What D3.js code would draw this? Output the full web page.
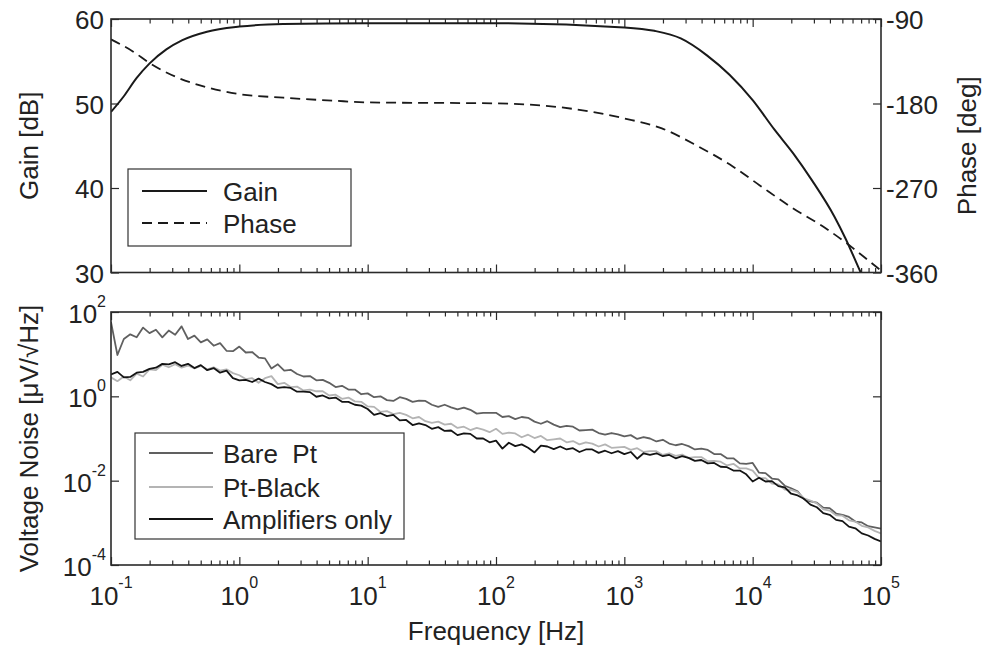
<!DOCTYPE html>
<html>
<head>
<meta charset="utf-8">
<script src="https://cdn.jsdelivr.net/npm/d3@7"></script>
<style>
	body { margin: 0; background: #fff; }
	text { font-family: "Liberation Sans", Arial, sans-serif; fill: #222; }
</style>
</head>
<body>
<div id="chart"></div>
<script>
// ---------------- data ----------------
// top panel: gain (dB) and phase (deg) versus frequency (Hz)
const gainFreq = [0.1, 0.125, 0.158, 0.2, 0.27, 0.36, 0.56, 1, 2.2, 10, 100, 1000, 1714, 2754, 4400, 6600, 10000, 14800, 20700, 29000, 43400, 53000, 69500, 80000];
const gainDb = [49.0, 50.8, 53.0, 54.75, 56.4, 57.5, 58.5, 59.1, 59.4, 59.5, 59.5, 59.0, 58.6, 57.7, 55.7, 53.4, 50.4, 46.9, 44.1, 40.9, 36.6, 34.0, 30.0, 28.0];

const phaseFreq = [0.1, 0.149, 0.2, 0.325, 0.56, 1, 2.2, 5.4, 10, 100, 316, 1000, 1960, 3800, 7000, 11300, 20700, 35600, 56600, 79500, 100000];
const phaseDeg = [-111.7, -124.8, -137, -152, -162.8, -170, -173.8, -177, -178.8, -179.9, -184, -195.9, -206.5, -226, -247, -267, -291.8, -311.3, -331, -347, -358];

// bottom panel: noise spectra, frequency as log10(Hz), values as log10(uV/sqrt(Hz))
const noiseFreqExp = [
	-1.00, -0.95, -0.90, -0.85, -0.80, -0.75, -0.70, -0.65, -0.60, -0.55, -0.50, -0.45, -0.40, -0.35, -0.30, -0.25, -0.20, -0.15, -0.10, -0.05,
	0.00, 0.05, 0.10, 0.15, 0.20, 0.25, 0.30, 0.35, 0.40, 0.45, 0.50, 0.55, 0.60, 0.65, 0.70, 0.75, 0.80, 0.85, 0.90, 0.95,
	1.00, 1.05, 1.10, 1.15, 1.20, 1.25, 1.30, 1.35, 1.40, 1.45, 1.50, 1.55, 1.60, 1.65, 1.70, 1.75, 1.80, 1.85, 1.90, 1.95,
	2.00, 2.05, 2.10, 2.15, 2.20, 2.25, 2.30, 2.35, 2.40, 2.45, 2.50, 2.55, 2.60, 2.65, 2.70, 2.75, 2.80, 2.85, 2.90, 2.95,
	3.00, 3.05, 3.10, 3.15, 3.20, 3.25, 3.30, 3.35, 3.40, 3.45, 3.50, 3.55, 3.60, 3.65, 3.70, 3.75, 3.80, 3.85, 3.90, 3.95,
	4.00, 4.05, 4.10, 4.15, 4.20, 4.25, 4.30, 4.35, 4.40, 4.45, 4.50, 4.55, 4.60, 4.65, 4.70, 4.75, 4.80, 4.85, 4.90, 4.95,
	5.00
];
const barePtExp = [
	1.76, 0.98, 1.36, 1.47, 1.40, 1.63, 1.50, 1.58, 1.40, 1.56, 1.46, 1.66, 1.36, 1.44, 1.28, 1.35, 1.20, 1.26, 1.08, 1.07,
	1.18, 1.04, 1.05, 0.92, 0.90, 0.66, 0.76, 0.61, 0.63, 0.53, 0.47, 0.48, 0.38, 0.39, 0.32, 0.22, 0.25, 0.16, 0.16, 0.05,
	0.07, -0.02, 0.00, -0.09, -0.11, -0.02, -0.06, -0.13, -0.10, -0.11, -0.20, -0.25, -0.20, -0.26, -0.31, -0.27, -0.32, -0.41, -0.39, -0.39,
	-0.39, -0.49, -0.47, -0.54, -0.49, -0.51, -0.60, -0.65, -0.59, -0.67, -0.73, -0.70, -0.72, -0.81, -0.80, -0.79, -0.87, -0.91, -0.87, -0.90,
	-0.95, -0.92, -1.01, -0.97, -1.00, -1.07, -1.03, -1.12, -1.16, -1.13, -1.18, -1.26, -1.24, -1.27, -1.37, -1.37, -1.47, -1.47, -1.59, -1.60,
	-1.58, -1.81, -1.82, -1.95, -1.97, -2.12, -2.18, -2.25, -2.44, -2.49, -2.52, -2.64, -2.65, -2.78, -2.81, -2.86, -2.97, -2.99, -3.08, -3.11,
	-3.14
];
const ptBlackExp = [
	0.45, 0.36, 0.47, 0.38, 0.54, 0.47, 0.64, 0.62, 0.75, 0.69, 0.76, 0.68, 0.73, 0.66, 0.72, 0.64, 0.69, 0.61, 0.64, 0.55,
	0.50, 0.41, 0.43, 0.32, 0.43, 0.48, 0.29, 0.32, 0.22, 0.23, 0.14, 0.16, 0.12, 0.12, 0.02, 0.04, -0.06, -0.03, -0.12, -0.13,
	-0.24, -0.25, -0.37, -0.35, -0.42, -0.39, -0.44, -0.52, -0.49, -0.59, -0.63, -0.60, -0.67, -0.65, -0.75, -0.72, -0.80, -0.75, -0.79, -0.85,
	-0.77, -0.89, -0.86, -0.88, -0.97, -0.91, -0.99, -0.94, -1.04, -1.02, -1.00, -1.09, -1.06, -1.14, -1.09, -1.12, -1.19, -1.14, -1.22, -1.21,
	-1.20, -1.27, -1.23, -1.32, -1.30, -1.30, -1.39, -1.35, -1.41, -1.38, -1.46, -1.44, -1.44, -1.54, -1.53, -1.55, -1.64, -1.60, -1.71, -1.71,
	-1.76, -1.94, -1.94, -2.07, -2.09, -2.21, -2.22, -2.27, -2.42, -2.47, -2.54, -2.68, -2.71, -2.82, -2.83, -2.94, -2.97, -3.07, -3.11, -3.19,
	-3.25
];
const ampOnlyExp = [
	0.52, 0.58, 0.45, 0.46, 0.56, 0.58, 0.65, 0.68, 0.77, 0.76, 0.81, 0.72, 0.77, 0.67, 0.74, 0.62, 0.67, 0.56, 0.61, 0.43,
	0.38, 0.39, 0.34, 0.42, 0.34, 0.29, 0.20, 0.22, 0.20, 0.11, 0.11, 0.10, -0.01, 0.02, -0.05, -0.03, -0.13, -0.13, -0.20, -0.22,
	-0.30, -0.44, -0.40, -0.47, -0.44, -0.57, -0.56, -0.68, -0.64, -0.68, -0.77, -0.73, -0.82, -0.81, -0.92, -0.88, -0.89, -1.00, -1.00, -1.09,
	-1.05, -1.24, -1.10, -1.18, -1.14, -1.22, -1.33, -1.17, -1.19, -1.25, -1.19, -1.26, -1.23, -1.32, -1.26, -1.26, -1.34, -1.29, -1.35, -1.30,
	-1.37, -1.32, -1.48, -1.35, -1.39, -1.35, -1.42, -1.39, -1.47, -1.42, -1.46, -1.53, -1.51, -1.59, -1.58, -1.67, -1.68, -1.76, -1.76, -1.85,
	-2.02, -1.93, -2.02, -2.01, -2.13, -2.16, -2.31, -2.35, -2.43, -2.57, -2.63, -2.77, -2.81, -2.93, -2.96, -3.09, -3.13, -3.25, -3.30, -3.38,
	-3.44
];

const freqTickExp = [-1, 0, 1, 2, 3, 4, 5];
const gainTicks = [30, 40, 50, 60];
const phaseTicks = [-360, -270, -180, -90];
const noiseTickExp = [-4, -2, 0, 2];

const noiseSeries = [
	{ name: "Bare  Pt", values: barePtExp, color: "#606060" },
	{ name: "Pt-Black", values: ptBlackExp, color: "#b4b4b4" },
	{ name: "Amplifiers only", values: ampOnlyExp, color: "#141414" },
];

// ---------------- layout ----------------
const W = 988, H = 650;
const xL = 111, xR = 881;
const top1 = 19, bot1 = 272.5, top2 = 312, bot2 = 565;
const frameColor = "#2a2a2a";
const fs = "26px", fsExp = "16px";

const svg = d3.select("#chart").append("svg").attr("width", W).attr("height", H);

const x = d3.scaleLog().domain([0.1, 1e5]).range([xL, xR]);
const yGain = d3.scaleLinear().domain([30, 60]).range([bot1, top1]);
const yPhase = d3.scaleLinear().domain([-360, -90]).range([bot1, top1]);
const yNoise = d3.scaleLog().domain([1e-4, 1e2]).range([bot2, top2]);

// decade and minor tick values on the frequency axis
const majorF = freqTickExp.map((e) => Math.pow(10, e));
const minorF = [];
freqTickExp.slice(0, -1).forEach((e) => {
	for (let k = 2; k <= 9; k++) minorF.push(k * Math.pow(10, e));
});

function freqTicks(yTop, yBot) {
	// bottom edge, ticks pointing in
	svg.append("g").attr("transform", `translate(0,${yBot})`)
		.call(d3.axisBottom(x).tickValues(majorF).tickSize(-8).tickFormat(""));
	svg.append("g").attr("transform", `translate(0,${yBot})`)
		.call(d3.axisBottom(x).tickValues(minorF).tickSize(-4.5).tickFormat(""));
	// top edge
	svg.append("g").attr("transform", `translate(0,${yTop})`)
		.call(d3.axisTop(x).tickValues(majorF).tickSize(-8).tickFormat(""));
	svg.append("g").attr("transform", `translate(0,${yTop})`)
		.call(d3.axisTop(x).tickValues(minorF).tickSize(-4.5).tickFormat(""));
}

function frame(yTop, yBot) {
	svg.append("rect")
		.attr("x", xL).attr("y", yTop)
		.attr("width", xR - xL).attr("height", yBot - yTop)
		.attr("fill", "none").attr("stroke", frameColor).attr("stroke-width", 1.6);
}

// clip paths
const defs = svg.append("defs");
defs.append("clipPath").attr("id", "clipTop").append("rect")
	.attr("x", xL).attr("y", top1).attr("width", xR - xL).attr("height", bot1 - top1);
defs.append("clipPath").attr("id", "clipBot").append("rect")
	.attr("x", xL).attr("y", top2).attr("width", xR - xL).attr("height", bot2 - top2);

// ================= TOP PANEL =================
freqTicks(top1, bot1);
svg.append("g").attr("transform", `translate(${xL},0)`)
	.call(d3.axisLeft(yGain).tickValues(gainTicks).tickSize(-8).tickFormat(""));
svg.append("g").attr("transform", `translate(${xR},0)`)
	.call(d3.axisRight(yPhase).tickValues(phaseTicks).tickSize(-8).tickFormat(""));

svg.selectAll(".gainLabel").data(gainTicks).join("text")
	.attr("class", "gainLabel")
	.attr("x", 104).attr("y", (d) => yGain(d) + 10)
	.attr("text-anchor", "end").style("font-size", fs)
	.text((d) => d);
svg.selectAll(".phaseLabel").data(phaseTicks).join("text")
	.attr("class", "phaseLabel")
	.attr("x", 886).attr("y", (d) => yPhase(d) + 10)
	.style("font-size", fs)
	.text((d) => d);

const topLines = svg.append("g").attr("clip-path", "url(#clipTop)");
const gainLine = d3.line().x((d) => x(d[0])).y((d) => yGain(d[1])).curve(d3.curveMonotoneX);
const phaseLine = d3.line().x((d) => x(d[0])).y((d) => yPhase(d[1])).curve(d3.curveMonotoneX);
topLines.append("path")
	.attr("d", phaseLine(phaseFreq.map((f, i) => [f, phaseDeg[i]])))
	.attr("fill", "none").attr("stroke", "#1a1a1a").attr("stroke-width", 1.8)
	.attr("stroke-dasharray", "10,6");
topLines.append("path")
	.attr("d", gainLine(gainFreq.map((f, i) => [f, gainDb[i]])))
	.attr("fill", "none").attr("stroke", "#1a1a1a").attr("stroke-width", 2);

frame(top1, bot1);

// top legend
svg.append("rect").attr("x", 128).attr("y", 169).attr("width", 223).attr("height", 77)
	.attr("fill", "#fff").attr("stroke", "#333").attr("stroke-width", 1.2);
[["Gain", null, 191], ["Phase", "10,6", 223]].forEach(([name, dash, ly]) => {
	svg.append("line").attr("x1", 142).attr("x2", 207).attr("y1", ly).attr("y2", ly)
		.attr("stroke", "#1a1a1a").attr("stroke-width", dash ? 1.8 : 2)
		.attr("stroke-dasharray", dash);
	svg.append("text").attr("x", 223).attr("y", ly + 10)
		.style("font-size", fs).text(name);
});

svg.append("text")
	.attr("transform", `translate(38,${(top1 + bot1) / 2}) rotate(-90)`)
	.attr("text-anchor", "middle").style("font-size", fs)
	.text("Gain [dB]");
svg.append("text")
	.attr("transform", `translate(976,${(top1 + bot1) / 2}) rotate(-90)`)
	.attr("text-anchor", "middle").style("font-size", fs)
	.text("Phase [deg]");

// ================= BOTTOM PANEL =================
freqTicks(top2, bot2);
const noiseMajor = noiseTickExp.map((e) => Math.pow(10, e));
svg.append("g").attr("transform", `translate(${xL},0)`)
	.call(d3.axisLeft(yNoise).tickValues(noiseMajor).tickSize(-8).tickFormat(""));
svg.append("g").attr("transform", `translate(${xR},0)`)
	.call(d3.axisRight(yNoise).tickValues(noiseMajor).tickSize(-8).tickFormat(""));

// power-of-ten labels
const noiseLab = svg.selectAll(".noiseLabel").data(noiseTickExp).join("text")
	.attr("class", "noiseLabel")
	.attr("x", 106).attr("y", (d) => yNoise(Math.pow(10, d)) + 11)
	.attr("text-anchor", "end").style("font-size", fs);
noiseLab.append("tspan").text("10");
noiseLab.append("tspan").attr("dy", -16).style("font-size", fsExp).text((d) => d);

const freqLab = svg.selectAll(".freqLabel").data(freqTickExp).join("text")
	.attr("class", "freqLabel")
	.attr("x", (d) => x(Math.pow(10, d))).attr("y", 605)
	.attr("text-anchor", "middle").style("font-size", fs);
freqLab.append("tspan").text("10");
freqLab.append("tspan").attr("dy", -17).style("font-size", fsExp).text((d) => d);

const botLines = svg.append("g").attr("clip-path", "url(#clipBot)");
const noiseLine = d3.line()
	.x((d) => x(Math.pow(10, d[0])))
	.y((d) => yNoise(Math.pow(10, d[1])));
noiseSeries.forEach((s) => {
	botLines.append("path")
		.attr("d", noiseLine(noiseFreqExp.map((e, i) => [e, s.values[i]])))
		.attr("fill", "none").attr("stroke", s.color).attr("stroke-width", 1.8)
		.attr("stroke-linejoin", "round");
});

frame(top2, bot2);

// bottom legend
svg.append("rect").attr("x", 135).attr("y", 433).attr("width", 269).attr("height", 106)
	.attr("fill", "#fff").attr("stroke", "#333").attr("stroke-width", 1.2);
noiseSeries.forEach((s, i) => {
	const ly = [453, 487, 519][i];
	svg.append("line").attr("x1", 149).attr("x2", 213).attr("y1", ly).attr("y2", ly)
		.attr("stroke", s.color).attr("stroke-width", 2);
	svg.append("text").attr("x", 223).attr("y", ly + 10)
		.style("font-size", fs).style("white-space", "pre")
		.attr("xml:space", "preserve")
		.text(s.name);
});

svg.append("text")
	.attr("transform", `translate(38,${(top2 + bot2) / 2}) rotate(-90)`)
	.attr("text-anchor", "middle").style("font-size", fs)
	.text("Voltage Noise [\u03bcV/\u221aHz]");
svg.append("text")
	.attr("x", (xL + xR) / 2).attr("y", 640)
	.attr("text-anchor", "middle").style("font-size", fs)
	.text("Frequency [Hz]");

// axis tick lines colour, no domain lines (frame drawn separately)
svg.selectAll(".domain").remove();
svg.selectAll(".tick line").attr("stroke", frameColor).attr("stroke-width", 1.2);
</script>
</body>
</html>
